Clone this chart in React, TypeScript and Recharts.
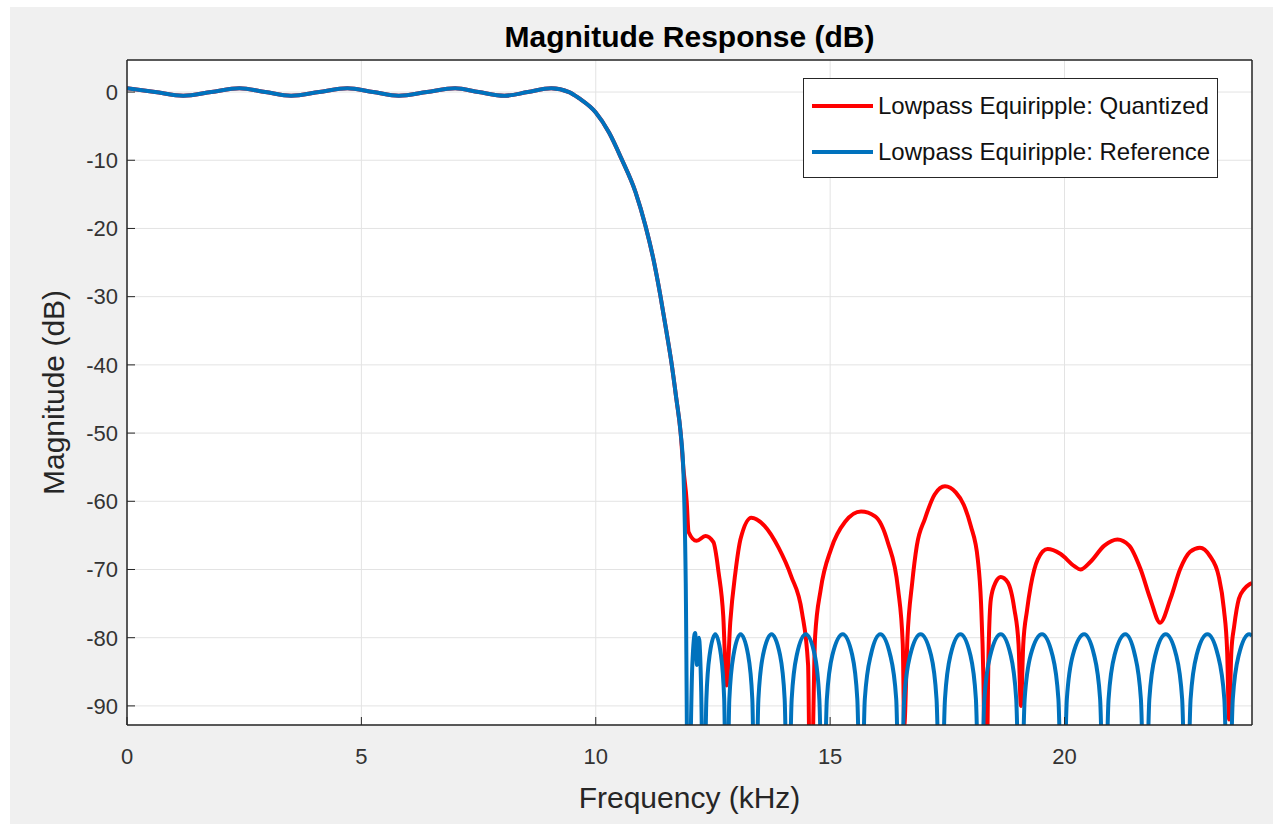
import { LineChart, Line, XAxis, YAxis, CartesianGrid, Legend } from 'recharts'

const FONT = '"Liberation Sans", Arial, Helvetica, sans-serif'
const AXIS = '#262626'

const freqTicks = [0, 5, 10, 15, 20]
const magTicks = [0, -10, -20, -30, -40, -50, -60, -70, -80, -90]

// passband ripple + start of the transition band (both filters overlap here)
const passFreq = [0, 0.6, 1.2, 1.8, 2.4, 2.95, 3.5, 4.1, 4.7, 5.25, 5.8, 6.4, 7.0, 7.5, 8.05, 8.55, 9.05, 9.43, 9.64, 10.0, 10.28, 10.55, 10.85, 11.06, 11.23, 11.38, 11.51, 11.62, 11.72, 11.81]
const passMag = [0.55, 0, -0.55, 0, 0.55, 0, -0.55, 0, 0.55, 0, -0.55, 0, 0.55, 0, -0.55, 0, 0.55, 0, -0.9, -3.0, -5.9, -9.8, -14.7, -19.6, -24.5, -29.9, -35.2, -39.9, -45, -49.9]

// quantized filter, stopband
const quantFreq = [11.87, 11.94, 11.98, 12.15, 12.34, 12.51, 12.62, 12.72, 12.79, 12.87, 12.98, 13.09, 13.32, 13.6, 13.9, 14.17, 14.4, 14.53, 14.58, 14.68, 14.8, 15.02, 15.32, 15.66, 15.96, 16.23, 16.45, 16.55, 16.58, 16.65, 16.75, 16.85, 17.02, 17.23, 17.45, 17.68, 17.85, 18.0, 18.15, 18.22, 18.27, 18.32, 18.38, 18.43, 18.53, 18.64, 18.79, 18.93, 19.02, 19.07, 19.12, 19.2, 19.28, 19.43, 19.64, 19.91, 20.21, 20.34, 20.55, 20.85, 21.13, 21.38, 21.62, 21.83, 22.04, 22.26, 22.47, 22.68, 22.89, 23.1, 23.29, 23.4, 23.47, 23.51, 23.56, 23.62, 23.72, 23.83, 23.94, 24]
const quantMag = [-55.2, -60, -64.5, -65.8, -65.1, -66, -70.4, -76.8, -87, -77.7, -70.4, -65.5, -62.4, -63.6, -66.8, -71, -76.3, -84, -110, -79.8, -72.9, -67, -63, -61.5, -62.2, -66, -72.9, -81, -93, -80, -72, -66.5, -62.6, -59, -57.8, -58.7, -60.5, -63.6, -68.5, -75, -86, -110, -82, -74.3, -71.9, -71.1, -71.9, -75.8, -81, -90, -81, -76, -72.4, -68.5, -67, -67.7, -69.5, -70, -68.9, -66.5, -65.6, -66.5, -69.9, -74.3, -77.8, -74.3, -69.9, -67.4, -66.8, -68, -71, -75.8, -82, -92, -82, -78.3, -74.3, -72.9, -72.2, -72]

// reference filter, stopband (equiripple lobes)
const refFreq = [
  11.87, 11.92, 11.97, 12.06, 12.12, 12.16, 12.2, 12.25, 12.3,
  12.36, 12.43, 12.55, 12.67, 12.74, 12.79,
  12.85, 12.94, 13.09, 13.25, 13.34, 13.4,
  13.47, 13.57, 13.75, 13.93, 14.03, 14.1,
  14.18, 14.29, 14.48, 14.67, 14.77, 14.85,
  14.93, 15.05, 15.27, 15.47, 15.58, 15.66,
  15.74, 15.87, 16.07, 16.28, 16.41, 16.49,
  16.58, 16.71, 16.93, 17.15, 17.27, 17.36,
  17.45, 17.57, 17.78, 17.99, 18.11, 18.2,
  18.29, 18.42, 18.64, 18.85, 18.97, 19.06,
  19.15, 19.28, 19.52, 19.74, 19.87, 19.96,
  20.05, 20.18, 20.42, 20.63, 20.76, 20.85,
  20.94, 21.07, 21.3, 21.5, 21.63, 21.72,
  21.81, 21.94, 22.16, 22.38, 22.51, 22.6,
  22.69, 22.82, 23.05, 23.27, 23.41, 23.5,
  23.59, 23.72, 23.94, 24,
]
const refMag = [
  -55.7, -72, -110, -84, -79.3, -84, -80, -88, -110,
  -89, -82.5, -79.5, -82.5, -89, -110,
  -89, -82.5, -79.5, -82.5, -89, -110,
  -89, -82.5, -79.5, -82.5, -89, -110,
  -89, -82.5, -79.5, -82.5, -89, -110,
  -89, -82.5, -79.5, -82.5, -89, -110,
  -89, -82.5, -79.5, -82.5, -89, -110,
  -89, -82.5, -79.5, -82.5, -89, -110,
  -89, -82.5, -79.5, -82.5, -89, -110,
  -89, -82.5, -79.5, -82.5, -89, -110,
  -89, -82.5, -79.5, -82.5, -89, -110,
  -89, -82.5, -79.5, -82.5, -89, -110,
  -89, -82.5, -79.5, -82.5, -89, -110,
  -89, -82.5, -79.5, -82.5, -89, -110,
  -89, -82.5, -79.5, -82.5, -89, -110,
  -89, -82.5, -79.5, -79.7,
]

const series = [
  { name: 'Lowpass Equiripple: Quantized', color: '#ff0000' },
  { name: 'Lowpass Equiripple: Reference', color: '#0072bd' },
]

const zip = (f: number[], m: number[]) => f.map((x, i) => ({ freq: x, mag: m[i] }))
const quantData = zip([...passFreq, ...quantFreq], [...passMag, ...quantMag])
const refData = zip([...passFreq, ...refFreq], [...passMag, ...refMag])

const tickStyle = { fontSize: 22, fill: '#333', fontFamily: FONT }

function Title(props: any) {
  const vb = props.viewBox
  return (
    <text x={vb.x + vb.width / 2} y={vb.y + vb.height - 13} textAnchor="middle" fontFamily={FONT} fontSize={30} fontWeight="bold" fill="#000">
      Magnitude Response (dB)
    </text>
  )
}

function XLabel(props: any) {
  const vb = props.viewBox
  return (
    <text x={vb.x + vb.width / 2} y={vb.y + 83} textAnchor="middle" fontFamily={FONT} fontSize={30} fill={AXIS}>
      Frequency (kHz)
    </text>
  )
}

function YLabel(props: any) {
  const vb = props.viewBox
  const x = vb.x + vb.width - 63
  const y = vb.y + vb.height / 2
  return (
    <text x={x} y={y} transform={`rotate(-90, ${x}, ${y})`} textAnchor="middle" fontFamily={FONT} fontSize={30} fill={AXIS}>
      Magnitude (dB)
    </text>
  )
}

function LegendBox() {
  return (
    <div style={{ width: 415, height: 100, boxSizing: 'border-box', border: `1.5px solid ${AXIS}`, background: '#fff', fontFamily: FONT, fontSize: 24, color: '#111', position: 'relative' }}>
      {series.map((s, i) => (
        <div key={s.name} style={{ position: 'absolute', left: 8, top: 27 + i * 46 - 14, height: 28, display: 'flex', alignItems: 'center' }}>
          <div style={{ width: 61, height: 4, background: s.color, marginRight: 5 }} />
          <span style={{ whiteSpace: 'nowrap' }}>{s.name}</span>
        </div>
      ))}
    </div>
  )
}

export default function App() {
  return (
    <div style={{ position: 'absolute', left: 0, top: 0, width: 1273, height: 824, background: '#fff' }}>
      <div style={{ position: 'absolute', left: 10, top: 7, width: 1263, height: 817, background: '#f0f0f0' }} />
      <LineChart width={1273} height={824} margin={{ top: 50, right: 11, bottom: 59, left: 67 }}>
        <CartesianGrid stroke="#e3e3e3" fill="#ffffff" fillOpacity={1} />
        <XAxis
          dataKey="freq"
          type="number"
          domain={[0, 24]}
          ticks={freqTicks}
          allowDataOverflow
          height={40}
          tickSize={-8}
          tickMargin={31}
          tick={tickStyle}
          axisLine={{ stroke: AXIS, strokeWidth: 1.5 }}
          tickLine={{ stroke: AXIS }}
          label={<XLabel />}
        />
        <XAxis
          xAxisId="top"
          orientation="top"
          type="number"
          domain={[0, 24]}
          ticks={freqTicks}
          height={10}
          tickSize={-8}
          tick={false}
          axisLine={{ stroke: AXIS, strokeWidth: 1.5 }}
          tickLine={{ stroke: AXIS }}
          label={<Title />}
        />
        <YAxis
          type="number"
          domain={[-92.8, 4.7]}
          ticks={magTicks}
          interval={0}
          allowDataOverflow
          width={60}
          tickSize={-8}
          tickMargin={17}
          tick={tickStyle}
          axisLine={{ stroke: AXIS, strokeWidth: 1.5 }}
          tickLine={{ stroke: AXIS }}
          label={<YLabel />}
        />
        <YAxis
          yAxisId="right"
          orientation="right"
          type="number"
          domain={[-92.8, 4.7]}
          ticks={magTicks}
          interval={0}
          width={10}
          tickSize={-8}
          tick={false}
          axisLine={{ stroke: AXIS, strokeWidth: 1.5 }}
          tickLine={{ stroke: AXIS }}
        />
        <Legend
          layout="horizontal"
          align="center"
          verticalAlign="middle"
          wrapperStyle={{ left: 803, top: 78, width: 415, height: 100 }}
          content={<LegendBox />}
        />
        <Line
          data={quantData}
          dataKey="mag"
          name={series[0].name}
          type="monotone"
          stroke={series[0].color}
          strokeWidth={4}
          dot={false}
          activeDot={false}
          isAnimationActive={false}
        />
        <Line
          data={refData}
          dataKey="mag"
          name={series[1].name}
          type="monotone"
          stroke={series[1].color}
          strokeWidth={4}
          dot={false}
          activeDot={false}
          isAnimationActive={false}
        />
      </LineChart>
    </div>
  )
}
